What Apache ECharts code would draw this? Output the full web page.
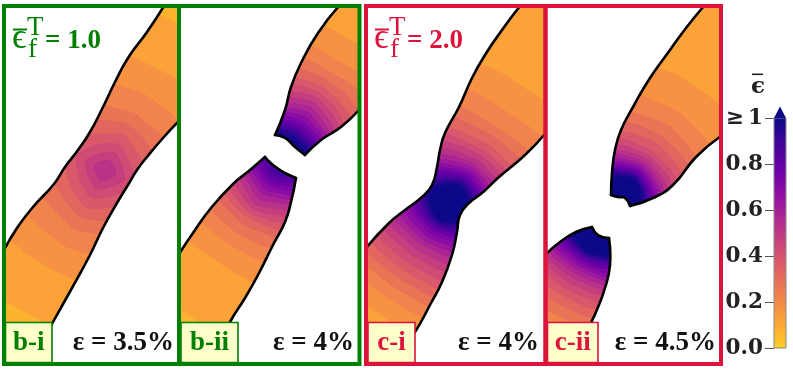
<!DOCTYPE html>
<html><head><meta charset="utf-8">
<style>html,body{margin:0;padding:0;background:#fff}#c{width:793px;height:369px}</style>
<script src="https://cdn.jsdelivr.net/npm/echarts@6/dist/echarts.min.js"></script>
</head><body><div id="c"></div>
<script>
// ---------- scale ----------
const colorbarTicks = [0, 0.2, 0.4, 0.6, 0.8, 1];
const colorStops = [[0,'#fcce25'],[0.111,'#fca636'],[0.222,'#f1844b'],[0.333,'#e16462'],[0.444,'#cc4778'],
  [0.556,'#b12a90'],[0.667,'#8f0da4'],[0.778,'#6a00a8'],[0.889,'#41049d'],[1,'#0d0887']];
const bandStep = 0.05;

// ---------- panel b-i ----------
const biEdgeUpper = [[164,6],[147,32],[128,58],[115,82],[103,107],[90,132],[78,150],[65,167],[54,184],[33,207],[17,228],[4,250]];
const biEdgeLower = [[30,364],[53,322],[72,288],[90,255],[103,228],[117,203],[128,185],[137,170],[147,157],[163,138],[179,121]];
const biStations = [-300,-160,-130,-90,-60,-30,0,30,60,90,120,160,300];
const biAcross = [0,35,70];
const biCentre = [105,170];
const biAxis = [0.45,-0.89];
const biStrain = [
 [.09,.09,.09],[.10,.10,.10],[.12,.12,.11],[.19,.18,.16],[.27,.24,.20],[.41,.32,.25],[.57,.39,.27],
 [.40,.32,.25],[.26,.24,.20],[.19,.18,.16],[.14,.14,.13],[.10,.10,.10],[.09,.09,.09]];

// ---------- panel b-ii ----------
const biiUpEdgeLeft = [[339,6],[318,33],[301,63],[291,87],[285,110],[275,135]];
const biiUpEdgeCrack = [[275,135],[285,138],[295,147],[305,155]];
const biiUpEdgeRight = [[305,155],[321,140],[341,127],[359,110]];
const biiUpStations = [-10,0,10,20,30,45,60,80,100,130,170,300];
const biiUpAcross = [0,20,40];
const biiUpCentre = [290,142];
const biiUpAxis = [0.5,-0.86];
const biiUpStrain = [
 [1.1,1.05,.75],[1.05,1.0,.7],[.92,.84,.62],[.76,.7,.56],[.65,.58,.48],[.52,.46,.38],[.38,.35,.31],
 [.25,.25,.24],[.18,.18,.18],[.13,.13,.13],[.10,.10,.10],[.09,.09,.09]];
const biiLowEdgeLeft = [[179,254],[195,230],[211,208],[233,184],[250,170],[265,157]];
const biiLowEdgeCrack = [[265,157],[273,165],[285,173],[296,178]];
const biiLowEdgeRight = [[296,178],[291,202],[285,222],[273,245],[258,275],[245,298],[230,322],[208,364]];
const biiLowStations = [-20,0,10,20,30,45,60,80,100,130,170,300];
const biiLowAcross = [0,25,50];
const biiLowCentre = [280,168];
const biiLowAxis = [-0.55,0.83];
const biiLowStrain = [
 [1,.85,.62],[.92,.8,.6],[.85,.72,.55],[.72,.62,.5],[.62,.52,.44],[.5,.42,.36],[.34,.31,.28],
 [.24,.23,.21],[.17,.17,.16],[.12,.12,.12],[.10,.10,.10],[.09,.09,.09]];

// ---------- panel c-i ----------
const ciEdgeUpper = [[520,6],[502,30],[485,55],[472,78],[459,107],[445,133],[440,150],[437,167],[432,185],[422,197],[405,210],[389,223],[366,248]];
const ciEdgeLower = [[392,364],[415,332],[430,305],[442,282],[452,255],[457,232],[460,215],[469,203],[482,193],[499,177],[525,155],[545,134]];
const ciStations = [-300,-150,-125,-105,-85,-65,-50,-30,-16,0,16,32,45,65,90,120,170,300];
const ciAcross = [0,30,60];
const ciCentre = [450,203];
const ciAxis = [0.55,-0.83];
const ciStrain = [
 [.09,.09,.09],[.12,.12,.11],[.16,.16,.15],[.23,.22,.21],[.33,.32,.29],[.45,.43,.38],[.55,.52,.47],[.78,.68,.52],
 [1.1,.8,.56],[1.4,.88,.56],[1.1,.78,.52],[.76,.6,.46],[.56,.5,.41],[.38,.35,.32],[.24,.24,.23],[.17,.17,.16],[.11,.11,.11],[.09,.09,.09]];

// ---------- panel c-ii ----------
const ciiUpEdgeLeft = [[704,6],[686,28],[670,50],[650,78],[633,107],[621,130],[615,150],[612,173],[611,195]];
const ciiUpEdgeCrack = [[611,195],[618,197],[625,198],[630,206]];
const ciiUpEdgeRight = [[630,206],[653,198],[673,185],[696,157],[721,136]];
const ciiUpStations = [-10,0,12,18,25,35,50,75,100,130,180,300];
const ciiUpAcross = [0,25,50];
const ciiUpCentre = [622,195];
const ciiUpAxis = [0.57,-0.82];
const ciiUpStrain = [
 [1.4,.95,.5],[1.35,.95,.5],[1.25,.85,.48],[1.08,.74,.46],[.86,.64,.43],[.62,.52,.38],[.42,.39,.32],[.28,.26,.23],
 [.2,.19,.18],[.15,.15,.14],[.11,.11,.11],[.09,.09,.09]];
const ciiLowEdgeLeft = [[545,255],[560,242],[576,232],[592,227]];
const ciiLowEdgeCrack = [[592,227],[598,235],[609,238]];
const ciiLowEdgeRight = [[609,238],[610,265],[605,288],[596,312],[591,323],[575,364]];
const ciiLowStations = [-20,0,12,20,30,40,50,65,85,110,150,300];
const ciiLowAcross = [0,25,50];
const ciiLowCentre = [597,235];
const ciiLowAxis = [-0.5,0.87];
const ciiLowStrain = [
 [1.3,1.15,.72],[1.3,1.1,.68],[1.2,1.0,.65],[1.0,.82,.6],[.74,.7,.54],[.6,.57,.47],[.5,.47,.42],[.38,.37,.33],
 [.27,.26,.24],[.18,.18,.17],[.12,.12,.12],[.09,.09,.09]];

// ---------- text ----------
const panelTags = ['b-i','b-ii','c-i','c-ii'];
const panelStrain = ['ε = 3.5%','ε = 4%','ε = 4%','ε = 4.5%'];
const titleValues = ['= 1.0','= 2.0'];

// ---------- assembly ----------
const GREEN='#008000', RED='#dc143c', SERIF='"Liberation Serif"', SLAB='"DejaVu Serif"';
const panels=[
 {x0:4,x1:179,color:GREEN,tag:[5.5,46.5],strainRight:174},
 {x0:179,x1:359.5,color:GREEN,tag:[181,57],strainRight:354},
 {x0:366,x1:545.5,color:RED,tag:[368,47],strainRight:539},
 {x0:545.5,x1:721,color:RED,tag:[547.5,50.5],strainRight:716}];
const Y0=6,Y1=364;
function P(panel,edges,walls,st,ac,centre,axis,strain){return{panel,edges,walls,st,ac,centre,axis,strain};}
const pieces=[
 P(0,[biEdgeUpper,biEdgeLower],[[[4,364]],[[179,6]]],biStations,biAcross,biCentre,biAxis,biStrain),
 P(1,[biiUpEdgeLeft,biiUpEdgeCrack,biiUpEdgeRight],[[],[],[[359.5,6]]],biiUpStations,biiUpAcross,biiUpCentre,biiUpAxis,biiUpStrain),
 P(1,[biiLowEdgeLeft,biiLowEdgeCrack,biiLowEdgeRight],[[],[],[[179,364]]],biiLowStations,biiLowAcross,biiLowCentre,biiLowAxis,biiLowStrain),
 P(2,[ciEdgeUpper,ciEdgeLower],[[[366,364]],[[545,6]]],ciStations,ciAcross,ciCentre,ciAxis,ciStrain),
 P(3,[ciiUpEdgeLeft,ciiUpEdgeCrack,ciiUpEdgeRight],[[],[],[[721,6]]],ciiUpStations,ciiUpAcross,ciiUpCentre,ciiUpAxis,ciiUpStrain),
 P(3,[ciiLowEdgeLeft,ciiLowEdgeCrack,ciiLowEdgeRight],[[],[],[[545.5,364]]],ciiLowStations,ciiLowAcross,ciiLowCentre,ciiLowAxis,ciiLowStrain)];

function hex(c){return [1,3,5].map(i=>parseInt(c.substr(i,2),16));}
function colorAt(v){
  v=Math.min(1,Math.max(0,v));
  for(let i=1;i<colorStops.length;i++){
    if(v<=colorStops[i][0]){
      const a=colorStops[i-1],b=colorStops[i],f=(v-a[0])/(b[0]-a[0]);
      const A=hex(a[1]),B=hex(b[1]);
      return 'rgb('+A.map((q,k)=>Math.round(q+(B[k]-q)*f)).join(',')+')';
    }
  }
  return colorStops[colorStops.length-1][1];
}
function seek(arr,v){
  if(v<=arr[0])return[0,0];
  for(let i=1;i<arr.length;i++)if(v<=arr[i])return[i-1,(v-arr[i-1])/(arr[i]-arr[i-1])];
  return[arr.length-2,1];
}
function rawStrain(p,x,y){
  const dx=x-p.centre[0],dy=y-p.centre[1],u=p.axis;
  const s=dx*u[0]+dy*u[1];
  const t=Math.abs(dx*(-u[1])+dy*u[0]);
  const [i,f]=seek(p.st,s),[j,g]=seek(p.ac,t);
  const m=p.strain;
  return (m[i][j]*(1-g)+m[i][j+1]*g)*(1-f)+(m[i+1][j]*(1-g)+m[i+1][j+1]*g)*f;
}
// contour drawing: average the table over a small neighbourhood so iso-lines stay rounded
function strainAt(p,x,y){
  const r=5;
  return (rawStrain(p,x,y)*2+rawStrain(p,x-r,y)+rawStrain(p,x+r,y)+rawStrain(p,x,y-r)+rawStrain(p,x,y+r))/6;
}
function inside(poly,x,y){
  let c=false;
  for(let i=0,j=poly.length-1;i<poly.length;j=i++){
    const a=poly[i],b=poly[j];
    if((a[1]>y)!==(b[1]>y)&&x<(b[0]-a[0])*(y-a[1])/(b[1]-a[1])+a[0])c=!c;
  }
  return c;
}
function bandOf(v){return Math.min(Math.floor(v/bandStep),Math.round(1/bandStep));}
function runsFor(p){
  const poly=[];
  p.edges.forEach((e,i)=>{poly.push(...e,...p.walls[i]);});
  const pan=panels[p.panel],runs=[];
  for(let y=Y0;y<Y1;y++){
    let start=null,band=null;
    for(let x=Math.floor(pan.x0);x<=Math.ceil(pan.x1);x++){
      const b=inside(poly,x+.5,y+.5)?bandOf(strainAt(p,x+.5,y+.5)):null;
      if(b!==band){
        if(band!==null)runs.push([start,x,y,band]);
        start=x;band=b;
      }
    }
    if(band!==null)runs.push([start,Math.ceil(pan.x1)+1,y,band]);
  }
  return runs;
}
function pieceSeries(p){
  let cached=null;
  return {type:'custom',coordinateSystem:'cartesian2d',xAxisIndex:p.panel,yAxisIndex:p.panel,clip:true,silent:true,
    animation:false,z:2,data:[p.centre],
    renderItem(params,api){
      if(!cached)cached=runsFor(p);
      const children=cached.map(r=>{
        const a=api.coord([r[0],r[2]]),b=api.coord([r[1],r[2]+1]);
        const level=r[3]>=Math.round(1/bandStep)?1:(r[3]+.5)*bandStep;
        return{type:'rect',shape:{x:a[0],y:a[1],width:b[0]-a[0],height:b[1]-a[1]},style:{fill:colorAt(level)},silent:true};
      });
      p.edges.forEach(e=>{
        children.push({type:'polyline',shape:{points:e.map(q=>api.coord(q)),smooth:0.5,smoothConstraint:false},
          style:{stroke:'#000',fill:null,lineWidth:2.6,lineJoin:'round',lineCap:'round'},silent:true,z2:5});
      });
      return{type:'group',children};
    }};
}

const grid=panels.map(q=>({left:q.x0,top:Y0,width:q.x1-q.x0,height:Y1-Y0,show:true,
  backgroundColor:'transparent',borderColor:q.color,borderWidth:4,z:5}));
const xAxis=panels.map((q,i)=>({type:'value',gridIndex:i,min:q.x0,max:q.x1,show:false}));
const yAxis=panels.map((q,i)=>({type:'value',gridIndex:i,min:Y0,max:Y1,inverse:true,show:false}));
// colour bar
grid.push({left:774,top:118,width:12,height:230,show:false});
xAxis.push({type:'value',gridIndex:4,min:0,max:1,show:false});
yAxis.push({type:'value',gridIndex:4,min:0,max:1,interval:0.2,position:'left',splitLine:{show:false},
  axisLine:{show:false},axisTick:{show:true,length:9,lineStyle:{color:'#555',width:1}},
  axisLabel:{margin:11,fontFamily:SLAB,fontWeight:'bold',fontSize:21.5,color:'#222',
    customValues:colorbarTicks,
    formatter:v=>v>=1?'≥\u20091':v.toFixed(1)}});

const series=pieces.map(pieceSeries);
series.push({type:'custom',coordinateSystem:'cartesian2d',xAxisIndex:4,yAxisIndex:4,clip:false,silent:true,animation:false,
  data:[[0,1]],renderItem(params,api){
    const a=api.coord([0,1]),b=api.coord([1,0]),tip=api.coord([0.5,1.05]);
    return{type:'group',children:[
      {type:'rect',shape:{x:a[0],y:a[1],width:b[0]-a[0],height:b[1]-a[1]},
       style:{stroke:'#888',lineWidth:1,fill:{type:'linear',x:0,y:1,x2:0,y2:0,
        colorStops:colorStops.map(s=>({offset:s[0],color:s[1]}))}}},
      {type:'polygon',shape:{points:[a,[b[0],a[1]],tip]},style:{fill:colorStops[colorStops.length-1][1]}}
    ]};
  }});

function T(x,y,text,fill,size,opt){
  const o=opt||{};
  return {type:'text',z:20,silent:true,style:{x,y,text,fill,
    font:(o.weight||'bold')+' '+size+'px '+(o.font||SERIF),align:o.align||'left',verticalAlign:'middle',
    textAlign:o.align||'left',textVerticalAlign:'middle'}};
}
const graphic=[];
panels.forEach((q,i)=>{
  graphic.push({type:'rect',z:19,silent:true,shape:{x:q.tag[0],y:322.5,width:q.tag[1],height:40},
    style:{fill:'#ffffcc',stroke:q.color,lineWidth:1.6}});
  graphic.push(T(q.tag[0]+q.tag[1]/2,343,panelTags[i],q.color,27,{align:'center'}));
  graphic.push(T(q.strainRight,343,panelStrain[i],'#111',27,{align:'right'}));
});
[[13,GREEN,titleValues[0]],[375,RED,titleValues[1]]].forEach(a=>{
  const x=a[0],c=a[1];
  graphic.push(T(x-1,39,'ϵ',c,36,{weight:'normal'}));
  graphic.push({type:'rect',z:20,silent:true,shape:{x:x,y:28.5,width:14,height:2},style:{fill:c}});
  graphic.push(T(x+14,28,'T',c,27,{weight:'normal'}));
  graphic.push(T(x+15,50,'f',c,27,{weight:'normal'}));
  graphic.push(T(x+32,41,a[2],c,27));
});
graphic.push(T(751,87,'ϵ','#222',23,{font:SLAB}));
graphic.push({type:'rect',z:20,silent:true,shape:{x:752,y:73.5,width:11,height:1.6},style:{fill:'#222'}});

const chart=echarts.init(document.getElementById('c'),null,{renderer:'canvas',width:793,height:369});
chart.setOption({animation:false,backgroundColor:'#fff',grid,xAxis,yAxis,series,graphic});
</script></body></html>
